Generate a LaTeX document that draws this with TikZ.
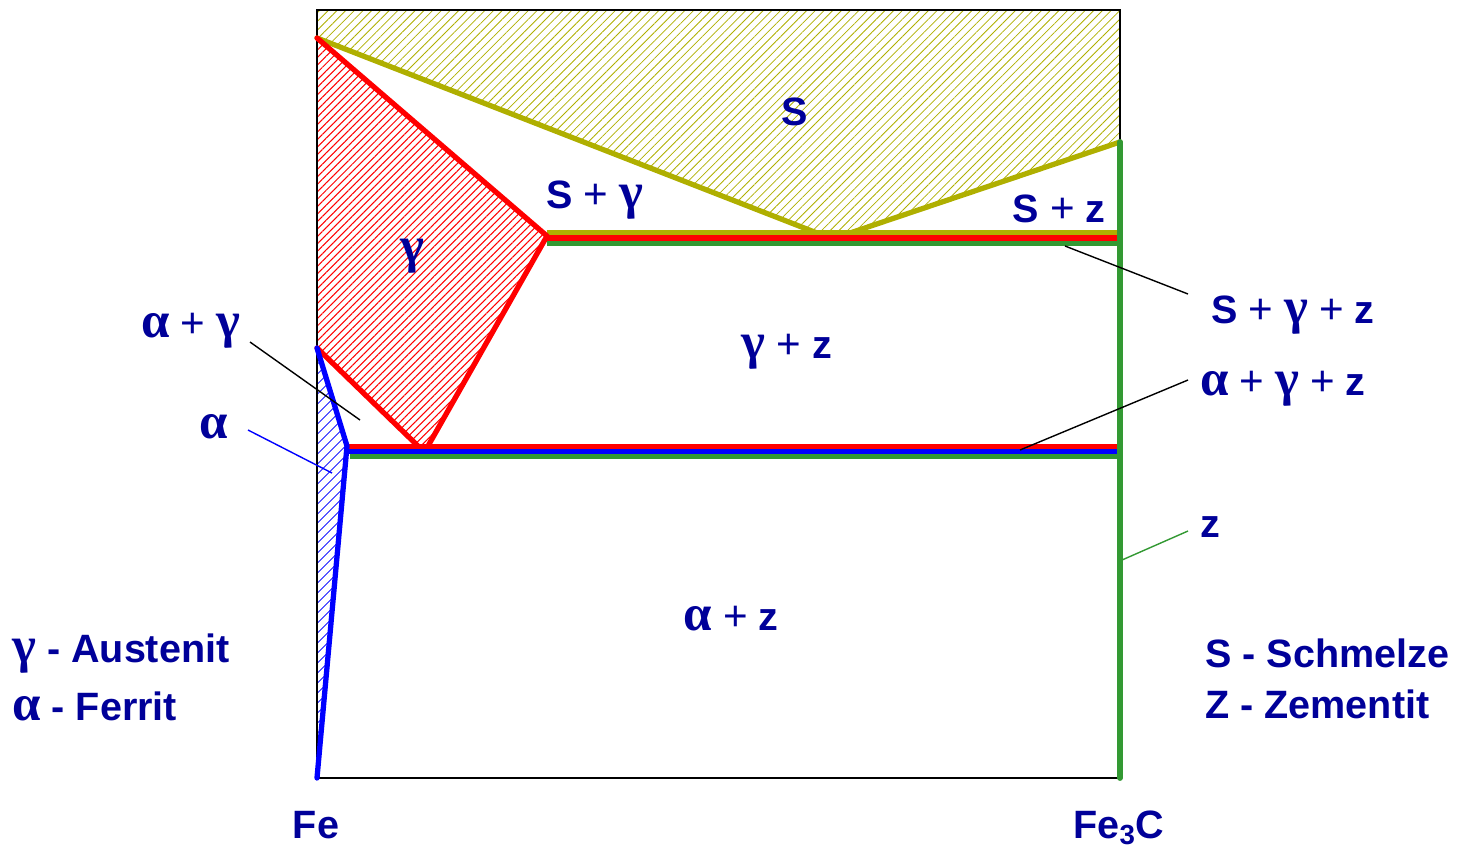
\documentclass[tikz,border=0pt]{standalone}
\usepackage{fontspec}
\setmainfont{Liberation Sans}
\newfontfamily\grkfont{Liberation Serif}
\usepackage{xcolor}
\usepackage{tikz}
\usetikzlibrary{patterns.meta}
\definecolor{LabelBlue}{HTML}{000099}
\definecolor{MeltOlive}{HTML}{AFAF00}
\definecolor{PhaseRed}{HTML}{FF0000}
\definecolor{PhaseBlue}{HTML}{0000FF}
\definecolor{PhaseGreen}{HTML}{339933}
\newcommand{\alp}{{\grkfont\bfseries\fontsize{29}{30}\selectfont α}}
\newcommand{\gam}{{\grkfont\bfseries\fontsize{29}{30}\selectfont γ}}
\newcommand{\pl}{{\mdseries\fontsize{24}{27}\selectfont +}}

\begin{document}
\begin{tikzpicture}[x=0.2mm, y=-0.2mm,
        every node/.style={font=\fontsize{22.5}{27}\selectfont\bfseries},
        lab/.style={text=LabelBlue, inner sep=0pt, anchor=base},
        labL/.style={text=LabelBlue, inner sep=0pt, anchor=base west},
        phase/.style={line width=3pt, line cap=round, line join=round},
        ptr/.style={line width=0.8pt, black},
        hatchS/.style={pattern={Lines[angle=45,distance=3.5pt,line width=0.45pt]},
            pattern color=MeltOlive},
        hatchG/.style={pattern={Lines[angle=45,distance=3pt,line width=0.6pt]},
            pattern color=PhaseRed},
        hatchA/.style={pattern={Lines[angle=45,distance=4pt,line width=0.5pt]},
            pattern color=PhaseBlue},
      ]
      \useasboundingbox (0,0) rectangle (1474,852);

      % Corner points of the phase fields
      \coordinate (feTop)   at (317,10);
      \coordinate (cemTop)  at (1120,10);
      \coordinate (feMelt)  at (317,38);
      \coordinate (cemMelt) at (1120,142);
      \coordinate (liqL)    at (817,233);
      \coordinate (liqR)    at (850,233);
      \coordinate (eutG)    at (547,236);
      \coordinate (feA3)    at (317,348);
      \coordinate (eutdL)   at (418,446);
      \coordinate (eutdR)   at (428,446);
      \coordinate (alpA1)   at (347,446);
      \coordinate (feBot)   at (317,778);
      \coordinate (cemBot)  at (1120,778);

      % Hatched fields
      \fill[hatchS] (feMelt) -- (feTop) -- (cemTop) -- (cemMelt) -- (liqR) -- (liqL) -- cycle;
      \fill[hatchG] (feMelt) -- (eutG) -- (eutdR) -- (eutdL) -- (feA3) -- cycle;
      \fill[hatchA] (feA3) -- (alpA1) -- (feBot) -- cycle;

      % Frame
      \draw[line width=1.1pt] (feTop) rectangle (cemBot);

      % Phase boundaries
      \draw[phase, MeltOlive] (feMelt) -- (liqL) -- (liqR) -- (cemMelt);
      \draw[phase, MeltOlive, line cap=butt] (547,232.5) -- (1120,232.5);
      \draw[phase, PhaseRed] (feMelt) -- (eutG) -- (eutdR);
      \draw[phase, PhaseRed] (feA3) -- (eutdL);
      \draw[phase, PhaseRed, line cap=butt] (547,238) -- (1120,238);
      \draw[phase, PhaseGreen, line cap=butt] (547,243.5) -- (1120,243.5);
      \draw[phase, PhaseRed, line cap=butt] (345,446.5) -- (1120,446.5);
      \draw[phase, PhaseBlue, line cap=butt] (345,451.5) -- (1120,451.5);
      \draw[phase, PhaseGreen, line cap=butt] (350,456.5) -- (1120,456.5);
      \draw[phase, PhaseBlue] (feA3) -- (alpA1) -- (feBot);
      \draw[phase, PhaseGreen, line width=3.3pt] (cemMelt) -- (cemBot);

      % Field labels
      \node[lab] (lS)    at (795,125) {S};
      \node[lab] (lSG)   at (595,208) {S \pl{} \gam};
      \node[lab] (lSZ)   at (1059,222) {S \pl{} z};
      \node[lab] (lG)    at (412,262) {\gam};
      \node[lab] (lGZ)   at (787,358) {\gam{} \pl{} z};
      \node[lab] (lAZ)   at (731,630) {\alp{} \pl{} z};
      \node[lab] (lSGZ)  at (1293,323) {S \pl{} \gam{} \pl{} z};
      \node[lab] (lAGZ)  at (1283,395) {\alp{} \pl{} \gam{} \pl{} z};
      \node[lab] (lAG)   at (191,337) {\alp{} \pl{} \gam};
      \node[lab] (lA)    at (214,438) {\alp};
      \node[lab] (lZ)    at (1210,537) {z};

      % Axis labels
      \node[lab] (lFe)   at (316,838) {Fe};
      \node[lab] (lCem)  at (1119,838) {Fe\textsubscript{3}C};

      % Legend
      \node[labL] (legG) at (12,662)   {\gam{} - Austenit};
      \node[labL] (legA) at (12,720)   {\alp{} - Ferrit};
      \node[labL] (legS) at (1205,667) {S - Schmelze};
      \node[labL] (legZ) at (1205,718) {Z - Zementit};

      % Pointer lines
      \coordinate (sgzTip) at (1188,294);
      \coordinate (sgzPt)  at (1065,246);
      \coordinate (agzTip) at (1188,380);
      \coordinate (agzPt)  at (1020,450);
      \coordinate (agTip)  at (250,342);
      \coordinate (agPt)   at (360,420);
      \coordinate (aTip)   at (248,430);
      \coordinate (aPt)    at (332,473);
      \coordinate (zTip)   at (1188,531);
      \coordinate (zPt)    at (1122,560);
      \draw[ptr] (sgzTip) -- (sgzPt);
      \draw[ptr] (agzTip) -- (agzPt);
      \draw[ptr] (agTip) -- (agPt);
      \draw[ptr, PhaseBlue] (aTip) -- (aPt);
      \draw[ptr, PhaseGreen] (zTip) -- (zPt);

    \end{tikzpicture}
\end{document}
